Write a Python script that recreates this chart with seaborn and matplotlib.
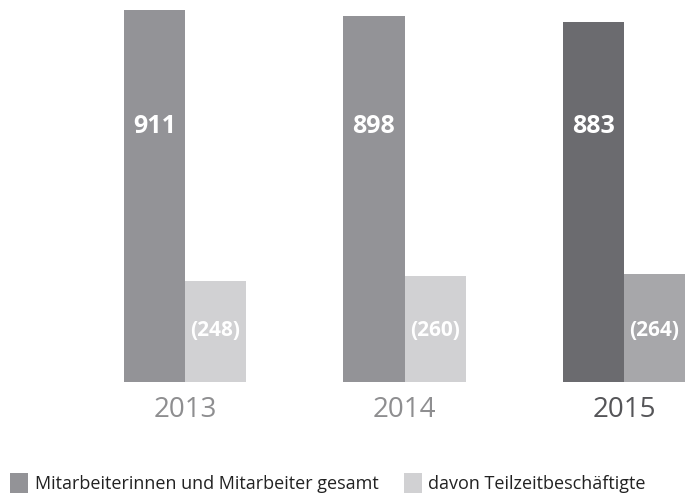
import matplotlib
matplotlib.use("Agg")
import matplotlib.pyplot as plt
import seaborn as sns
import pandas as pd
from matplotlib.patches import Patch

years = ["2013", "2014", "2015"]
total = [911, 898, 883]
parttime = [248, 260, 264]
series_names = ["Mitarbeiterinnen und Mitarbeiter gesamt", "davon Teilzeitbeschäftigte"]
labels_total = ["911", "898", "883"]
labels_part = ["(248)", "(260)", "(264)"]

sns.set_theme(style="white")
plt.rcParams['font.family'] = ['Open Sans', 'DejaVu Sans']

df = pd.DataFrame({
    "year": years * 2,
    "value": total + parttime,
    "series": [series_names[0]] * 3 + [series_names[1]] * 3,
})

c_total = "#939397"
c_part = "#d1d1d3"
c_total_hi = "#6b6b6f"
c_part_hi = "#a7a7aa"

fig = plt.figure(figsize=(6.85, 4.97), dpi=100)
ax = fig.add_axes([0, 0.2314, 1, 0.7686])
sns.barplot(data=df, x="year", y="value", hue="series", order=years,
            hue_order=series_names, palette=[c_total, c_part],
            width=0.556, saturation=1, ax=ax, legend=False)

ax.set_xlim(-0.843, 2.278)
ax.set_ylim(0, 936)
for s in ax.spines.values():
    s.set_visible(False)
ax.set_xticks([]); ax.set_yticks([])
ax.set_xlabel(""); ax.set_ylabel("")

bars = ax.patches
tot_bars = bars[:3]
part_bars = bars[3:6]
tot_bars[2].set_facecolor(c_total_hi)
part_bars[2].set_facecolor(c_part_hi)
for b in bars:
    b.set_edgecolor("none")

for b, lab in zip(tot_bars, labels_total):
    ax.text(b.get_x() + b.get_width() / 2, 625, lab,
            ha="center", va="center", color="white", fontsize=18, fontweight="bold")
for b, lab in zip(part_bars, labels_part):
    ax.text(b.get_x() + b.get_width() / 2, 127, lab,
            ha="center", va="center", color="white", fontsize=15, fontweight="bold")

year_colors = ["#8e8e90", "#8e8e90", "#555558"]
for i, (y, c) in enumerate(zip(years, year_colors)):
    ax.text(i, -35, y, ha="center", va="top", color=c, fontsize=20,
            clip_on=False)

handles = [Patch(facecolor=c_total, edgecolor="none"), Patch(facecolor=c_part, edgecolor="none")]
fig.legend(handles, series_names, loc="lower left", bbox_to_anchor=(0.015, 0.008),
           borderaxespad=0, borderpad=0,
           ncol=2, frameon=False, fontsize=13, handlelength=1.0, handleheight=1.3,
           handletextpad=0.35, columnspacing=1.4, labelcolor="#222222")

fig.savefig("out.png", dpi=100)
